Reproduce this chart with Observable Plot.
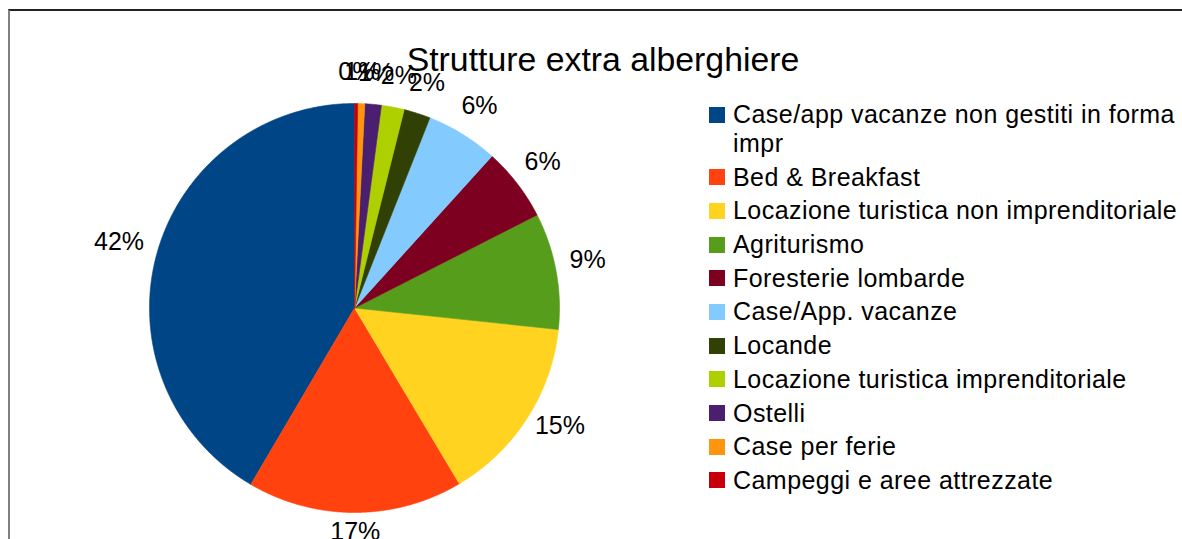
<!DOCTYPE html>
<html>
<head>
<meta charset="utf-8">
<script src="https://cdn.jsdelivr.net/npm/d3@7"></script>
<script src="https://cdn.jsdelivr.net/npm/@observablehq/plot@0.6"></script>
<style>
  html, body { margin: 0; padding: 0; background: #fff; }
  #wrap { position: relative; width: 1182px; height: 539px; overflow: hidden; font-family: "Liberation Sans", Arial, sans-serif; }
  #frame { position: absolute; left: 8px; top: 9px; width: 1300px; height: 700px; border-top: 2px solid #222; border-left: 2px solid #808080; box-sizing: border-box; }
  #title { position: absolute; left: 0; width: 1206px; top: 39px; text-align: center; font-size: 33.8px; line-height: 40px; color: #000; white-space: nowrap; }
  #legend { position: absolute; left: 709px; top: 100px; }
  .row { display: flex; align-items: flex-start; margin-bottom: 4.7px; }
  .sw { width: 16px; height: 16px; margin-top: 6.5px; margin-right: 8px; flex: none; }
  .lab { font-size: 25px; line-height: 29px; width: 452px; color: #000; letter-spacing: 0.45px; }
  #chart { position: absolute; left: 0; top: 0; }
</style>
</head>
<body>
<div id="wrap">
  <div id="frame"></div>
  <div id="chart"></div>
  <div id="title"></div>
  <div id="legend"></div>
</div>
<script>
const title = "Strutture extra alberghiere";
const categories = [
  "Case/app vacanze non gestiti in forma impr",
  "Bed & Breakfast",
  "Locazione turistica non imprenditoriale",
  "Agriturismo",
  "Foresterie lombarde",
  "Case/App. vacanze",
  "Locande",
  "Locazione turistica imprenditoriale",
  "Ostelli",
  "Case per ferie",
  "Campeggi e aree attrezzate"
];
const values = [41.6, 17.0, 14.8, 9.2, 5.8, 5.7, 2.1, 1.8, 1.3, 0.55, 0.25];
const colors = ["#004586", "#ff420e", "#ffd320", "#579d1c", "#7e0021", "#83caff", "#314004", "#aecf00", "#4b1f6f", "#ff950e", "#c5000b"];

const W = 1182, H = 539;
const FONT = "Liberation Sans, Arial, sans-serif";
const labelSize = 25;

// pie angles (counterclockwise from 12 o'clock)
const total = d3.sum(values);
const arcs = d3.pie().sort(null).value(d => d)(values);

// slice polygons in unit-circle data coordinates (y up)
const pts = [];
arcs.forEach((a, i) => {
  const name = categories[i];
  pts.push({name, x: 0, y: 0});
  const n = Math.max(2, Math.ceil((a.endAngle - a.startAngle) / 0.005));
  for (let k = 0; k <= n; k++) {
    const t = a.startAngle + (a.endAngle - a.startAngle) * k / n;
    pts.push({name, x: -Math.sin(t), y: Math.cos(t)});
  }
  pts.push({name, x: 0, y: 0});
});

// percent labels placed just outside the circle
const Rpx = 205, gap = 14, boxH = 24;
const labels = arcs.map((a, i) => {
  const m = (a.startAngle + a.endAngle) / 2;
  const dx = -Math.sin(m), dy = Math.cos(m);
  const txt = Math.round(values[i] / total * 100) + "%";
  const w = ((txt.length - 1) * 0.556 + 0.889) * labelSize;
  const r = 1 + gap / Rpx;
  return {
    text: txt,
    x: dx * r + dx * (w / 2) / Rpx,
    y: dy * r + dy * (boxH / 2) / Rpx
  };
});

const chart = Plot.plot({
  width: W,
  height: H,
  marginLeft: 149,
  marginRight: W - 559,
  marginTop: 103,
  marginBottom: H - 512,
  x: {domain: [-1, 1], axis: null},
  y: {domain: [-1, 1], axis: null},
  color: {domain: categories, range: colors},
  style: {background: "transparent", overflow: "visible"},
  marks: [
    Plot.line(pts, {x: "x", y: "y", z: "name", fill: "name", stroke: "name", strokeWidth: 0.6, curve: "linear"}),
    Plot.text(labels, {x: "x", y: "y", text: "text", fontSize: labelSize, fontFamily: FONT, fill: "#000", textAnchor: "middle", lineAnchor: "middle", dy: -6})
  ]
});
document.getElementById("chart").appendChild(chart);

document.getElementById("title").textContent = title;

const legend = d3.select("#legend");
categories.forEach((c, i) => {
  const row = legend.append("div").attr("class", "row");
  row.append("div").attr("class", "sw").style("background", colors[i]);
  row.append("div").attr("class", "lab").text(c);
});
</script>
</body>
</html>
